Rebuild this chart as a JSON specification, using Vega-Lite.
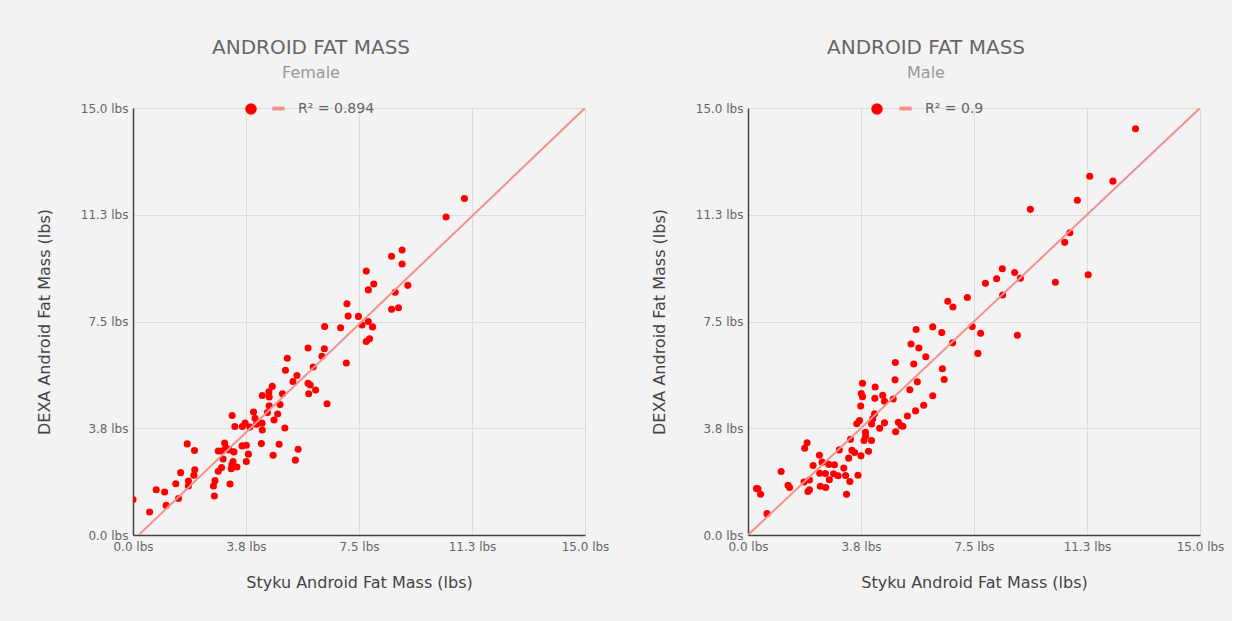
{
"$schema": "https://vega.github.io/schema/vega-lite/v6.json",
"background": "#f3f3f3",
"padding": {"left": 36, "top": 38, "right": 8, "bottom": 32},
"spacing": 42,
"config": {
  "font": "DejaVu Sans",
  "view": {"stroke": null},
  "axis": {"labelFont": "DejaVu Sans", "labelFontSize": 12, "labelColor": "#666", "titleFont": "DejaVu Sans", "titleFontSize": 16, "titleFontWeight": "normal", "titleColor": "#444", "gridColor": "#dcdcdc", "gridWidth": 1, "domainColor": "#444", "domainWidth": 1.5, "ticks": false, "labelFlush": false, "labelOverlap": false},
  "legend": {"orient": "none", "direction": "horizontal", "title": null, "padding": 0, "labelFont": "DejaVu Sans", "labelFontSize": 14, "labelColor": "#666", "labelOffset": 11},
  "title": {"font": "DejaVu Sans", "fontSize": 20, "fontWeight": "normal", "color": "#666", "subtitleFont": "DejaVu Sans", "subtitleFontSize": 16, "subtitleColor": "#999", "subtitlePadding": 7, "dx": -48, "offset": 19}
},
"datasets": {
  "female": [{"x":11.0,"y":11.82},{"x":10.39,"y":11.17},{"x":8.58,"y":9.79},{"x":8.93,"y":10.01},{"x":8.93,"y":9.52},{"x":7.74,"y":9.27},{"x":7.99,"y":8.82},{"x":7.81,"y":8.61},{"x":8.70,"y":8.53},{"x":9.12,"y":8.77},{"x":8.58,"y":7.93},{"x":8.81,"y":7.98},{"x":7.10,"y":8.12},{"x":7.14,"y":7.69},{"x":7.48,"y":7.68},{"x":7.60,"y":7.38},{"x":7.81,"y":7.50},{"x":7.95,"y":7.31},{"x":6.36,"y":7.32},{"x":6.89,"y":7.28},{"x":7.74,"y":6.80},{"x":7.85,"y":6.89},{"x":7.08,"y":6.04},{"x":5.81,"y":6.57},{"x":6.35,"y":6.54},{"x":6.27,"y":6.28},{"x":5.12,"y":6.21},{"x":5.06,"y":5.79},{"x":5.98,"y":5.90},{"x":5.44,"y":5.60},{"x":5.31,"y":5.39},{"x":5.81,"y":5.33},{"x":5.88,"y":5.27},{"x":6.06,"y":5.09},{"x":5.83,"y":4.96},{"x":6.44,"y":4.61},{"x":4.96,"y":4.96},{"x":4.62,"y":5.22},{"x":4.51,"y":5.03},{"x":4.29,"y":4.90},{"x":4.52,"y":4.85},{"x":4.88,"y":4.58},{"x":4.52,"y":4.54},{"x":4.46,"y":4.30},{"x":4.80,"y":4.25},{"x":4.68,"y":4.04},{"x":4.00,"y":4.32},{"x":4.05,"y":4.10},{"x":3.29,"y":4.20},{"x":3.72,"y":3.93},{"x":3.88,"y":3.79},{"x":4.10,"y":3.89},{"x":4.28,"y":3.93},{"x":4.29,"y":3.69},{"x":3.63,"y":3.81},{"x":3.38,"y":3.81},{"x":5.04,"y":3.76},{"x":4.26,"y":3.21},{"x":4.85,"y":3.19},{"x":5.48,"y":3.01},{"x":5.39,"y":2.63},{"x":4.65,"y":2.80},{"x":3.76,"y":3.15},{"x":3.62,"y":3.13},{"x":3.83,"y":2.84},{"x":3.76,"y":2.58},{"x":3.04,"y":3.23},{"x":2.83,"y":2.95},{"x":2.94,"y":2.95},{"x":3.08,"y":3.06},{"x":3.19,"y":2.99},{"x":3.35,"y":2.92},{"x":2.99,"y":2.67},{"x":3.32,"y":2.58},{"x":3.28,"y":2.47},{"x":3.45,"y":2.39},{"x":3.26,"y":2.33},{"x":2.94,"y":2.37},{"x":2.83,"y":2.24},{"x":2.72,"y":1.91},{"x":2.67,"y":1.72},{"x":2.70,"y":1.37},{"x":3.22,"y":1.79},{"x":1.80,"y":3.20},{"x":2.04,"y":2.97},{"x":2.05,"y":2.29},{"x":2.02,"y":2.10},{"x":1.84,"y":1.90},{"x":1.84,"y":1.72},{"x":1.58,"y":2.19},{"x":1.42,"y":1.80},{"x":1.51,"y":1.28},{"x":1.10,"y":1.04},{"x":1.05,"y":1.51},{"x":0.77,"y":1.59},{"x":0.55,"y":0.81},{"x":0.0,"y":1.25}],
  "male": [{"x":12.86,"y":14.27},{"x":11.34,"y":12.60},{"x":12.11,"y":12.43},{"x":10.93,"y":11.76},{"x":9.37,"y":11.44},{"x":10.68,"y":10.62},{"x":10.51,"y":10.28},{"x":11.29,"y":9.14},{"x":10.20,"y":8.88},{"x":8.44,"y":9.35},{"x":8.85,"y":9.22},{"x":9.04,"y":9.02},{"x":8.25,"y":9.00},{"x":7.88,"y":8.84},{"x":8.45,"y":8.43},{"x":7.28,"y":8.34},{"x":6.63,"y":8.21},{"x":6.80,"y":8.01},{"x":8.94,"y":7.02},{"x":7.44,"y":7.32},{"x":7.72,"y":7.09},{"x":7.63,"y":6.38},{"x":6.13,"y":7.31},{"x":5.58,"y":7.22},{"x":6.43,"y":7.11},{"x":6.79,"y":6.75},{"x":5.41,"y":6.71},{"x":5.67,"y":6.57},{"x":5.90,"y":6.26},{"x":4.89,"y":6.06},{"x":5.50,"y":6.01},{"x":6.45,"y":5.84},{"x":6.51,"y":5.46},{"x":4.88,"y":5.45},{"x":5.62,"y":5.38},{"x":3.80,"y":5.33},{"x":4.22,"y":5.20},{"x":3.76,"y":4.97},{"x":3.80,"y":4.86},{"x":4.21,"y":4.80},{"x":4.47,"y":4.91},{"x":4.53,"y":4.70},{"x":4.82,"y":4.78},{"x":5.37,"y":5.10},{"x":6.13,"y":4.89},{"x":3.74,"y":4.53},{"x":4.20,"y":4.26},{"x":4.14,"y":4.08},{"x":4.10,"y":3.90},{"x":3.70,"y":4.02},{"x":3.61,"y":3.91},{"x":4.53,"y":3.94},{"x":4.37,"y":3.75},{"x":4.99,"y":3.96},{"x":5.08,"y":3.84},{"x":5.14,"y":3.82},{"x":4.90,"y":3.63},{"x":5.29,"y":4.18},{"x":5.56,"y":4.36},{"x":5.83,"y":4.56},{"x":3.90,"y":3.61},{"x":3.90,"y":3.47},{"x":3.85,"y":3.32},{"x":4.10,"y":3.32},{"x":3.40,"y":3.36},{"x":4.00,"y":2.94},{"x":3.75,"y":2.78},{"x":3.45,"y":2.98},{"x":3.54,"y":2.90},{"x":3.34,"y":2.70},{"x":3.03,"y":2.99},{"x":2.37,"y":2.80},{"x":2.46,"y":2.56},{"x":2.16,"y":2.44},{"x":2.68,"y":2.48},{"x":2.87,"y":2.47},{"x":3.18,"y":2.35},{"x":2.38,"y":2.17},{"x":2.57,"y":2.16},{"x":2.84,"y":2.15},{"x":2.99,"y":2.08},{"x":3.24,"y":2.09},{"x":2.70,"y":1.94},{"x":3.38,"y":1.88},{"x":3.65,"y":2.10},{"x":3.27,"y":1.43},{"x":2.40,"y":1.71},{"x":2.58,"y":1.67},{"x":2.04,"y":1.93},{"x":1.86,"y":1.86},{"x":2.04,"y":1.59},{"x":1.99,"y":1.53},{"x":1.88,"y":3.05},{"x":1.96,"y":3.24},{"x":1.10,"y":2.23},{"x":1.33,"y":1.75},{"x":1.38,"y":1.67},{"x":0.28,"y":1.63},{"x":0.33,"y":1.62},{"x":0.42,"y":1.43},{"x":0.63,"y":0.75}],
  "female_fit": [{"x":0.19,"y":0},{"x":15,"y":15}],
  "male_fit": [{"x":0,"y":0},{"x":15,"y":15}]
},
"resolve": {"scale": {"fill": "independent", "stroke": "independent"}, "legend": {"fill": "independent", "stroke": "independent"}},
"hconcat": [
  {
    "width": 452, "height": 427,
    "title": {"text": "ANDROID FAT MASS", "subtitle": "Female"},
    "layer": [
      {
        "data": {"name": "female"},
        "mark": {"type": "point", "filled": true, "size": 50, "opacity": 1, "clip": true},
        "encoding": {
          "x": {"field": "x", "type": "quantitative", "scale": {"domain": [0, 15], "nice": false}, "title": "Styku Android Fat Mass (lbs)", "axis": {"values": [0, 3.75, 7.5, 11.25, 15], "labelExpr": "format(datum.value, '.1f') + ' lbs'", "labelPadding": 6, "titlePadding": 22, "grid": true}},
          "y": {"field": "y", "type": "quantitative", "scale": {"domain": [0, 15], "nice": false}, "title": "DEXA Android Fat Mass (lbs)", "axis": {"values": [0, 3.75, 7.5, 11.25, 15], "labelExpr": "format(datum.value, '.1f') + ' lbs'", "labelPadding": 5, "titlePadding": 28, "grid": true}},
          "fill": {"datum": "Styku vs DEXA", "type": "nominal", "scale": {"range": ["#ff0000"]},
            "legend": {"legendX": 111, "legendY": -6, "symbolType": "circle", "symbolSize": 133, "symbolStrokeWidth": 0, "labelExpr": "''"}}
        }
      },
      {
        "data": {"name": "female_fit"},
        "mark": {"type": "line", "strokeWidth": 2, "clip": true},
        "encoding": {
          "x": {"field": "x", "type": "quantitative"},
          "y": {"field": "y", "type": "quantitative"},
          "stroke": {"datum": "R² = 0.894", "type": "nominal", "scale": {"range": ["#f4908f"]},
            "legend": {"legendX": 137, "legendY": -8, "symbolType": "stroke", "symbolSize": 150, "symbolStrokeWidth": 4}}
        }
      }
    ]
  },
  {
    "width": 452, "height": 427,
    "title": {"text": "ANDROID FAT MASS", "subtitle": "Male"},
    "layer": [
      {
        "data": {"name": "male"},
        "mark": {"type": "point", "filled": true, "size": 50, "opacity": 1, "clip": true},
        "encoding": {
          "x": {"field": "x", "type": "quantitative", "scale": {"domain": [0, 15], "nice": false}, "title": "Styku Android Fat Mass (lbs)", "axis": {"values": [0, 3.75, 7.5, 11.25, 15], "labelExpr": "format(datum.value, '.1f') + ' lbs'", "labelPadding": 6, "titlePadding": 22, "grid": true}},
          "y": {"field": "y", "type": "quantitative", "scale": {"domain": [0, 15], "nice": false}, "title": "DEXA Android Fat Mass (lbs)", "axis": {"values": [0, 3.75, 7.5, 11.25, 15], "labelExpr": "format(datum.value, '.1f') + ' lbs'", "labelPadding": 5, "titlePadding": 28, "grid": true}},
          "fill": {"datum": "Styku vs DEXA", "type": "nominal", "scale": {"range": ["#ff0000"]},
            "legend": {"legendX": 122, "legendY": -6, "symbolType": "circle", "symbolSize": 133, "symbolStrokeWidth": 0, "labelExpr": "''"}}
        }
      },
      {
        "data": {"name": "male_fit"},
        "mark": {"type": "line", "strokeWidth": 2, "clip": true},
        "encoding": {
          "x": {"field": "x", "type": "quantitative"},
          "y": {"field": "y", "type": "quantitative"},
          "stroke": {"datum": "R² = 0.9", "type": "nominal", "scale": {"range": ["#f4908f"]},
            "legend": {"legendX": 149, "legendY": -8, "symbolType": "stroke", "symbolSize": 150, "symbolStrokeWidth": 4}}
        }
      }
    ]
  }
]
}
